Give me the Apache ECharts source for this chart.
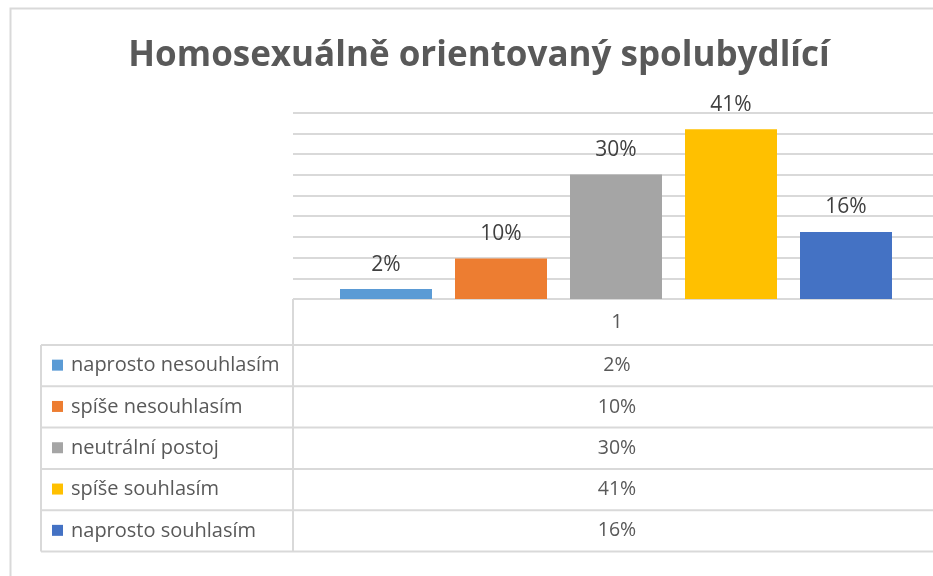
<!DOCTYPE html>
<html>
<head>
<meta charset="utf-8">
<script src="https://cdn.jsdelivr.net/npm/echarts@6/dist/echarts.min.js"></script>
<style>
  html, body { margin: 0; padding: 0; background: #fff; }
  #chart { width: 933px; height: 576px; }
</style>
</head>
<body>
<div id="chart"></div>
<script>
// data
var titleText = 'Homosexuálně orientovaný spolubydlící';
var categories = ['1'];
var seriesNames = ['naprosto nesouhlasím', 'spíše nesouhlasím', 'neutrální postoj', 'spíše souhlasím', 'naprosto souhlasím'];
var seriesValues = [2.4, 9.8, 30.1, 41, 16.2];
var seriesColors = ['#5b9bd5', '#ed7d31', '#a5a5a5', '#ffc000', '#4472c4'];

var FONT = 'Open Sans';
var LINE = '#d9d9d9';
var TEXT = '#595959';

// layout of the plot / data table
var plotLeft = 293, plotWidth = 646, plotTop = 112.7, plotBottom = 299;
var tableLeft = 41, tableRight = 945;
var headerBottom = 345, rowH = 41.3;
var valueX = 617;

function pct(v) { return Math.round(v) + '%'; }

var myChart = echarts.init(document.getElementById('chart'));

var series = seriesNames.map(function (name, i) {
  return {
    name: name,
    type: 'bar',
    barWidth: 92,
    barGap: '25%',
    data: [seriesValues[i]],
    itemStyle: { color: seriesColors[i] },
    label: {
      show: true,
      position: 'top',
      distance: 14,
      formatter: function (p) { return pct(p.value); },
      fontFamily: FONT,
      fontSize: 21,
      color: '#404040'
    }
  };
});

// data table drawn under the plot
var graphics = [];
// outer chart frame
graphics.push({ type: 'rect', shape: { x: 10.5, y: 8.5, width: 1000, height: 1000 },
  style: { fill: null, stroke: LINE, lineWidth: 2 }, silent: true });
graphics.push({ type: 'line', shape: { x1: plotLeft, y1: plotBottom, x2: plotLeft, y2: headerBottom + rowH * seriesNames.length },
  style: { stroke: LINE, lineWidth: 2 } });
graphics.push({ type: 'line', shape: { x1: tableLeft, y1: headerBottom, x2: tableLeft, y2: headerBottom + rowH * seriesNames.length },
  style: { stroke: LINE, lineWidth: 2 } });
graphics.push({ type: 'text', x: valueX, y: (plotBottom + headerBottom) / 2,
  style: { text: categories[0], fontFamily: FONT, fontSize: 20, fill: TEXT, align: 'center', verticalAlign: 'middle' } });
for (var r = 0; r <= seriesNames.length; r++) {
  var y = headerBottom + r * rowH;
  graphics.push({ type: 'line', shape: { x1: tableLeft, y1: y, x2: tableRight, y2: y },
    style: { stroke: LINE, lineWidth: 2 } });
}
seriesNames.forEach(function (name, i) {
  var cy = headerBottom + i * rowH + rowH / 2;
  graphics.push({ type: 'rect', shape: { x: 52, y: cy - 6, width: 11, height: 11 },
    style: { fill: seriesColors[i] } });
  graphics.push({ type: 'text', x: 71, y: cy,
    style: { text: name, fontFamily: FONT, fontSize: 20, fill: TEXT, verticalAlign: 'middle' } });
  graphics.push({ type: 'text', x: valueX, y: cy,
    style: { text: pct(seriesValues[i]), fontFamily: FONT, fontSize: 19.5, fill: TEXT, align: 'center', verticalAlign: 'middle' } });
});

var option = {
  animation: false,
  title: {
    text: titleText,
    left: 474,
    top: 34,
    textAlign: 'center',
    textStyle: { fontFamily: FONT, fontSize: 35, fontWeight: 'bold', color: TEXT }
  },
  grid: {
    left: plotLeft, top: plotTop, width: plotWidth, height: plotBottom - plotTop,
    outerBoundsMode: 'none'
  },
  xAxis: {
    type: 'category',
    data: categories,
    axisLine: { show: false },
    axisTick: { show: false },
    axisLabel: { show: false }
  },
  yAxis: {
    type: 'value',
    min: 0,
    max: 45,
    interval: 5,
    axisLabel: { show: false },
    axisLine: { show: false },
    axisTick: { show: false },
    splitLine: { lineStyle: { color: LINE, width: 2 } }
  },
  series: series,
  graphic: graphics
};

myChart.setOption(option);
</script>
</body>
</html>
